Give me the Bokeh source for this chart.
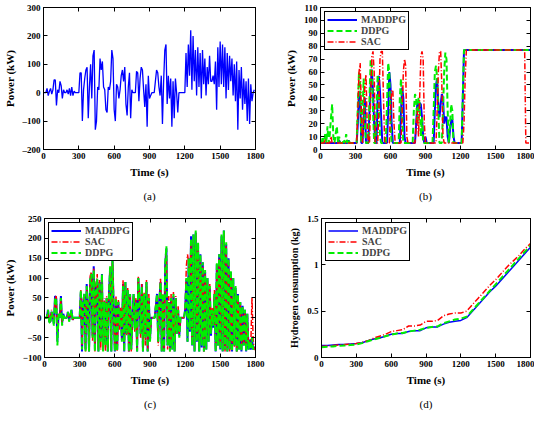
from bokeh.plotting import figure
from bokeh.layouts import column, row
from bokeh.models import (FixedTicker, LinearAxis, Range1d, Legend, LegendItem,
                          CustomLabelingPolicy)
from bokeh.embed import file_html
from bokeh.resources import INLINE

FONT = "Liberation Serif"

# ---------------- data ----------------
time_a = list(range(0, 1800, 10))
time_bc = list(range(0, 1810, 10))
time_d = list(range(0, 1850, 50))
time_ticks = [0, 300, 600, 900, 1200, 1500, 1800]

# (a) power demand (kW)
power_demand = [
    0, 0, 0, 15, -10, 5, 15, -5, 10, 45,
    45, -45, 10, 0, 40, 25, -20, 10, 0, 0,
    10, -5, 15, -10, 20, -10, 5, 0, 0, 0,
    0, 70, 70, -100, 10, 50, 80, 90, -90, 20,
    100, -20, 130, 150, -130, -100, 20, 10, 120, 80,
    110, 20, 10, -60, -70, 20, 10, 40, 150, 120,
    -60, -100, 30, 20, -20, 10, 60, 80, 40, 90,
    -40, -80, 20, 70, -90, 10, 0, 0, 0, 75,
    70, -30, 50, 90, 80, 10, -50, 30, -120, 60,
    -20, -10, 0, 0, 0, 40, 80, 70, 20, -10,
    60, -110, 40, 150, 170, -40, 60, -20, 50, -120,
    40, -90, 50, 0, -70, 0, 0, 0, 0, 0,
    0, 140, 20, 170, 60, 220, 10, 200, 40, 150,
    -10, 160, 20, 140, -20, 150, 30, 120, -10, 90,
    30, 130, 40, 40, 60, 30, 110, -60, 160, 20,
    180, 30, 170, 20, 160, -20, 140, 10, 130, 40,
    120, -10, 100, -30, 110, -130, 80, -20, 90, -60,
    50, -40, 40, -100, 50, -110, 30, -30, 0, 10,
]

# (b) fuel cell power (kW)
fc_maddpg = [
    5, 5, 5, 5, 5, 5, 5, 5, 5, 5,
    5, 5, 5, 5, 5, 5, 7, 5, 5, 5,
    5, 5, 5, 5, 7, 5, 5, 5, 5, 5,
    5, 5, 20, 45, 40, 5, 5, 25, 40, 5,
    5, 5, 30, 50, 62, 45, 20, 5, 5, 40,
    57, 45, 25, 5, 5, 5, 5, 5, 30, 60,
    50, 20, 5, 5, 5, 5, 5, 5, 5, 30,
    48, 40, 10, 5, 5, 5, 5, 5, 5, 5,
    5, 5, 20, 36, 30, 36, 35, 25, 10, 5,
    10, 5, 5, 5, 5, 5, 5, 5, 30, 50,
    55, 35, 25, 35, 43, 40, 20, 25, 25, 10,
    5, 15, 23, 23, 10, 5, 5, 5, 5, 5,
    5, 5, 40, 77, 77, 77, 77, 77, 77, 77,
    77, 77, 77, 77, 77, 77, 77, 77, 77, 77,
    77, 77, 77, 77, 77, 77, 77, 77, 77, 77,
    77, 77, 77, 77, 77, 77, 77, 77, 77, 77,
    77, 77, 77, 77, 77, 77, 77, 77, 77, 77,
    77, 77, 77, 77, 77, 77, 77, 77, 77, 77,
    77,
]
fc_ddpg = [
    5, 5, 10, 5, 12, 5, 18, 5, 12, 25,
    35, 10, 5, 12, 18, 5, 10, 5, 5, 5,
    8, 5, 12, 5, 8, 5, 5, 5, 5, 5,
    5, 5, 35, 60, 50, 5, 30, 55, 20, 5,
    5, 5, 40, 70, 65, 30, 5, 5, 30, 58,
    45, 10, 5, 5, 5, 5, 5, 35, 67, 60,
    20, 5, 5, 5, 5, 5, 5, 5, 40, 55,
    30, 5, 5, 5, 5, 5, 5, 5, 5, 5,
    30, 43, 40, 20, 40, 35, 10, 25, 5, 5,
    5, 5, 5, 5, 5, 5, 5, 30, 60, 65,
    55, 30, 5, 5, 5, 30, 60, 75, 70, 30,
    5, 20, 35, 30, 5, 5, 5, 5, 5, 5,
    5, 5, 45, 77, 77, 77, 77, 77, 77, 77,
    77, 77, 77, 77, 77, 77, 77, 77, 77, 77,
    77, 77, 77, 77, 77, 77, 77, 77, 77, 77,
    77, 77, 77, 77, 77, 77, 77, 77, 77, 77,
    77, 77, 77, 77, 77, 77, 77, 77, 77, 77,
    77, 77, 77, 77, 77, 77, 77, 77, 77, 77,
    77,
]
fc_sac = [
    5, 5, 5, 5, 8, 5, 5, 5, 5, 10,
    5, 5, 5, 5, 5, 5, 5, 5, 5, 5,
    5, 5, 5, 5, 5, 5, 5, 5, 5, 5,
    5, 5, 30, 60, 67, 30, 5, 20, 50, 58,
    20, 5, 5, 40, 72, 76, 60, 5, 5, 5,
    30, 70, 76, 76, 40, 5, 5, 5, 5, 5,
    30, 46, 46, 20, 5, 5, 5, 5, 5, 5,
    30, 60, 70, 65, 10, 5, 5, 5, 5, 5,
    5, 5, 20, 30, 10, 40, 72, 76, 70, 20,
    5, 5, 5, 5, 5, 5, 5, 5, 5, 5,
    30, 60, 76, 76, 50, 10, 5, 5, 5, 5,
    5, 5, 5, 5, 5, 5, 5, 5, 5, 5,
    5, 5, 5, 20, 55, 77, 77, 77, 77, 77,
    77, 77, 77, 77, 77, 77, 77, 77, 77, 77,
    77, 77, 77, 77, 77, 77, 77, 77, 77, 77,
    77, 77, 77, 77, 77, 77, 77, 77, 77, 77,
    77, 77, 77, 77, 77, 77, 77, 77, 77, 77,
    77, 77, 77, 77, 77, 77, 5, 5, 5, 5,
    5,
]

# (c) battery power (kW)
bat_maddpg = [
    0, 0, 0, 20, -10, -10, 15, 5, -15, 55,
    50, -60, 10, 0, 55, -15, 10, 0, 0, 0,
    15, -5, 5, 20, -5, 0, 0, 0, 0, 0,
    0, 65, -85, 40, 60, -80, 85, 30, -85, 95,
    110, -45, 130, -80, 80, 95, -85, 90, -55, 110,
    -80, 40, -65, 50, -85, 60, 125, -85, 145, 25,
    -85, 45, -80, 40, -20, 20, -55, 85, -85, 90,
    -40, 70, -85, 60, -80, 0, 60, -25, 45, -85,
    100, 45, -40, 85, -85, 60, -45, 90, -85, 50,
    -55, 0, 0, 0, 0, 30, 60, -60, 45, 90,
    -85, 55, -85, 135, 175, -70, 40, -80, 50, -80,
    55, -85, 50, -40, 20, -45, 0, 0, 0, 0,
    20, 95, -60, 150, -35, 205, -70, 210, -85, 215,
    -60, 185, -85, 160, -75, 140, -85, 115, -80, 100,
    -60, 75, -45, 20, -25, 60, -85, 135, -70, 160,
    -80, 205, -85, 220, -80, 185, -85, 150, -80, 115,
    -85, 100, -70, 75, -85, 60, -80, 40, -85, 30,
    -70, 20, -85, 10, -80, -55, -80, -50, -80, -75,
    -75,
]
bat_sac = [
    0, 0, 0, 15, -5, -10, 20, 0, -10, 45,
    55, -40, 10, 0, 45, -15, 5, 0, 0, 0,
    10, -5, 5, 15, -5, 0, 0, 0, 0, 0,
    0, 70, -70, 45, 55, -85, 75, 35, -80, 105,
    115, -60, 125, -85, 85, 110, -80, 95, -80, 100,
    -85, 50, -85, 55, -80, 65, 120, -75, 170, 30,
    -80, 55, -85, 45, -30, 25, -50, 95, -80, 85,
    -45, 75, -85, 55, -85, 5, 55, -35, 50, -80,
    105, 55, -50, 85, -80, 65, -70, 95, -85, 60,
    -50, 0, 0, 0, 0, 35, 55, -70, 50, 100,
    -85, 60, -80, 120, 160, -80, 55, -85, 60, -60,
    65, -85, 55, -30, 30, -40, 0, 0, 0, 0,
    20, 130, 160, 140, 100, 190, -60, 200, -80, 215,
    -50, 180, -80, 150, -60, 130, -85, 110, -70, 95,
    -50, 85, -35, 25, -15, 70, -80, 130, -65, 150,
    -75, 200, -80, 215, -85, 180, -80, 140, -85, 110,
    -80, 95, -75, 70, -85, 55, -75, 35, -80, 25,
    -65, 15, -80, 5, -75, -55, -70, 50, -55, -80,
    -80,
]
bat_ddpg = [
    0, 0, 0, 20, -10, -15, 15, 5, -20, 50,
    50, -70, 10, 0, 50, -20, 10, 0, 0, 0,
    15, -10, 5, 20, -5, 0, 0, 0, 0, 0,
    0, 70, -80, 40, 60, -85, 80, 30, -85, 100,
    110, -50, 120, -85, 80, 100, -85, 90, -60, 110,
    -85, 40, -70, 50, -85, 60, 130, -85, 150, 20,
    -85, 50, -85, 40, -20, 20, -60, 80, -85, 90,
    -40, 70, -85, 60, -80, 0, 60, -30, 40, -85,
    100, 50, -40, 80, -85, 60, -50, 90, -85, 50,
    -60, 0, 0, 0, 0, 30, 60, -60, 40, 90,
    -85, 60, -85, 140, 180, -70, 40, -85, 50, -80,
    60, -85, 50, -40, 20, -50, 0, 0, 0, 0,
    20, 100, -60, 150, -30, 200, -70, 210, -85, 220,
    -60, 190, -85, 160, -70, 140, -85, 120, -80, 100,
    -60, 80, -40, 20, -20, 60, -85, 140, -70, 160,
    -80, 210, -85, 220, -80, 190, -85, 150, -80, 120,
    -85, 100, -70, 80, -85, 60, -80, 40, -85, 30,
    -70, 20, -85, 10, -80, -60, -80, -50, -80, -75,
    -75,
]

# (d) hydrogen consumption (kg)
h2_maddpg = [0.13, 0.13, 0.135, 0.14, 0.14, 0.145, 0.15, 0.16, 0.18, 0.20, 0.21, 0.23, 0.25,
             0.26, 0.26, 0.28, 0.29, 0.29, 0.32, 0.33, 0.33, 0.36, 0.38, 0.39, 0.40, 0.43,
             0.50, 0.57, 0.64, 0.71, 0.77, 0.84, 0.91, 0.98, 1.05, 1.12, 1.19]
h2_sac = [0.12, 0.125, 0.13, 0.135, 0.14, 0.145, 0.15, 0.165, 0.18, 0.21, 0.23, 0.25, 0.28,
          0.29, 0.30, 0.34, 0.34, 0.35, 0.39, 0.39, 0.40, 0.45, 0.47, 0.48, 0.48, 0.50,
          0.57, 0.64, 0.71, 0.78, 0.84, 0.91, 0.98, 1.04, 1.10, 1.17, 1.23]
h2_ddpg = [0.11, 0.115, 0.12, 0.125, 0.13, 0.135, 0.14, 0.155, 0.175, 0.195, 0.21, 0.23, 0.245,
           0.26, 0.265, 0.28, 0.29, 0.30, 0.32, 0.33, 0.335, 0.37, 0.39, 0.41, 0.42, 0.44,
           0.51, 0.58, 0.65, 0.72, 0.79, 0.86, 0.93, 1.00, 1.07, 1.14, 1.21]

BLUE = "#0000ff"
RED = "#ff0000"
GREEN = "#00ee00"

HIDE_LABELS = "for (const i of indices) { indices.unset(i) }\nreturn indices"


def style_axis(ax, size="9px"):
    ax.major_label_text_font = FONT
    ax.major_label_text_font_style = "bold"
    ax.major_label_text_font_size = size
    ax.major_label_text_color = "black"
    ax.axis_label_text_font = FONT
    ax.axis_label_text_font_style = "bold"
    ax.axis_label_text_font_size = "11px"
    ax.axis_label_text_color = "black"
    ax.major_tick_in = 4
    ax.major_tick_out = 0
    ax.minor_tick_line_color = None
    ax.axis_line_color = "black"
    ax.major_tick_line_color = "black"
    ax.major_label_standoff = 3
    ax.axis_label_standoff = 4


def make_fig(w, h, yr, yticks, ylabel, caption, ml, mr, mt, mb, cap_standoff,
             ylabel_size="11px", overrides=None):
    p = figure(width=w, height=h, x_range=Range1d(0, 1800), y_range=Range1d(*yr),
               output_backend="svg", toolbar_location=None,
               min_border_left=ml, min_border_right=mr, min_border_top=mt, min_border_bottom=mb)
    p.xgrid.visible = False
    p.ygrid.visible = False
    p.outline_line_color = "black"
    p.outline_line_alpha = 1
    p.outline_line_width = 1
    p.xaxis.ticker = FixedTicker(ticks=time_ticks)
    p.yaxis.ticker = FixedTicker(ticks=yticks)
    p.xaxis.axis_label = "Time (s)"
    p.yaxis.axis_label = ylabel
    for ax in p.xaxis + p.yaxis:
        style_axis(ax)
    p.yaxis.axis_label_text_font_size = ylabel_size
    if overrides:
        p.yaxis.major_label_overrides = overrides
    # mirrored inward ticks on top and right, without labels and without reserved space
    top = LinearAxis(ticker=FixedTicker(ticks=time_ticks))
    right = LinearAxis(ticker=FixedTicker(ticks=yticks))
    for ax in (top, right):
        style_axis(ax, size="0px")
        ax.major_label_standoff = 0
        ax.major_label_policy = CustomLabelingPolicy(code=HIDE_LABELS)
    p.add_layout(top, "above")
    p.add_layout(right, "right")
    # sub-figure caption: an empty axis below the x axis that only carries the caption text
    cap = LinearAxis(ticker=FixedTicker(ticks=[]), axis_label=caption,
                     axis_line_color=None, major_tick_line_color=None, minor_tick_line_color=None,
                     major_tick_in=0, major_tick_out=0, minor_tick_in=0, minor_tick_out=0,
                     major_label_standoff=0, axis_label_standoff=cap_standoff,
                     axis_label_text_font=FONT, axis_label_text_font_size="11px",
                     axis_label_text_font_style="normal", axis_label_text_color="black")
    p.add_layout(cap, "below")
    return p


def add_legend(p, items):
    lg = Legend(items=[LegendItem(label=l, renderers=[r]) for l, r in items], location="top_left",
                label_text_font=FONT, label_text_font_style="bold", label_text_font_size="10px",
                glyph_width=30, glyph_height=9, label_height=9, label_standoff=4, spacing=0,
                padding=2, margin=4, border_line_color="black", border_line_width=1,
                border_line_alpha=1, background_fill_alpha=1)
    p.add_layout(lg)


# (a)
pa = make_fig(267, 204, (-200, 300), [-200, -100, 0, 100, 200, 300], "Power (kW)", "(a)",
              41, 12, 6, 52, 9, overrides={-200: "\u2013200", -100: "\u2013100"})
pa.line(time_a, power_demand, line_color=BLUE, line_width=1.3)

# (b)
pb = make_fig(267, 204, (0, 110), list(range(0, 111, 10)), "Power (kW)", "(b)",
              53, 4, 7, 52, 9)
rb1 = pb.line(time_bc, fc_maddpg, line_color=BLUE, line_width=2)
rb2 = pb.line(time_bc, fc_ddpg, line_color=GREEN, line_width=2, line_dash="6 3")
rb3 = pb.line(time_bc, fc_sac, line_color=RED, line_width=1.5, line_dash="6 2 1 2")
add_legend(pb, [("MADDPG", rb1), ("DDPG", rb2), ("SAC", rb3)])

# (c)
pc = make_fig(267, 208, (-100, 250), [-100, -50, 0, 50, 100, 150, 200, 250], "Power (kW)", "(c)",
              41, 12, 13, 52, 9)
rc1 = pc.line(time_bc, bat_maddpg, line_color=BLUE, line_width=2)
rc2 = pc.line(time_bc, bat_sac, line_color=RED, line_width=1.5, line_dash="6 2 1 2")
rc3 = pc.line(time_bc, bat_ddpg, line_color=GREEN, line_width=2, line_dash="6 3")
add_legend(pc, [("MADDPG", rc1), ("SAC", rc2), ("DDPG", rc3)])

# (d)
pd_ = make_fig(267, 208, (0, 1.5), [0, 0.5, 1, 1.5], "Hydrogen consumption (kg)", "(d)",
               54, 4, 14, 52, 9, ylabel_size="10px", overrides={0: "0", 1: "1"})
rd1 = pd_.line(time_d, h2_maddpg, line_color=BLUE, line_width=1.5)
rd2 = pd_.line(time_d, h2_sac, line_color=RED, line_width=1.5, line_dash="6 2 1 2")
rd3 = pd_.line(time_d, h2_ddpg, line_color=GREEN, line_width=2, line_dash="6 3")
add_legend(pd_, [("MADDPG", rd1), ("SAC", rd2), ("DDPG", rd3)])

layout = column(row(pa, pb), row(pc, pd_))
open("out.html", "w").write(file_html(layout, INLINE))
